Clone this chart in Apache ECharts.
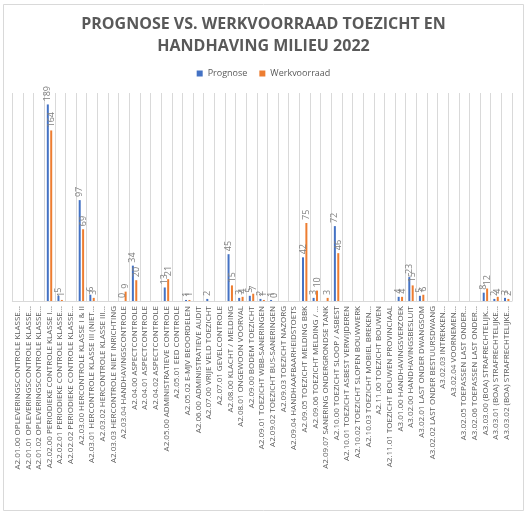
<!DOCTYPE html>
<html>
<head>
<meta charset="utf-8">
<script src="https://cdn.jsdelivr.net/npm/echarts@6/dist/echarts.min.js"></script>
<style>
html,body{margin:0;padding:0;background:#fff;}
#c{width:527px;height:517px;}
</style>
</head>
<body>
<div id="c"></div>
<script>
var categories = [
  "A2.01.00 OPLEVERINGSCONTROLE KLASSE…",
  "A2.01.01 OPLEVERINGSCONTROLE KLASSE…",
  "A2.01.02 OPLEVERINGSCONTROLE KLASSE…",
  "A2.02.00 PERIODIEKE CONTROLE KLASSE I…",
  "A2.02.01 PERIODIEKE CONTROLE KLASSE…",
  "A2.02.02 PERIODIEKE CONTROLE KLASSE…",
  "A2.03.00 HERCONTROLE KLASSE I & II",
  "A2.03.01 HERCONTROLE KLASSE III (NIET…",
  "A2.03.02 HERCONTROLE KLASSE III…",
  "A2.03.03 HERCONTROLE NIET INRICHTING",
  "A2.03.04 HANDHAVINGSCONTROLE",
  "A2.04.00 ASPECTCONTROLE",
  "A2.04.01 ASPECTCONTROLE",
  "A2.04.02 ASPECTCONTROLE",
  "A2.05.00 ADMINISTRATIEVE CONTROLE",
  "A2.05.01 EED CONTROLE",
  "A2.05.02 E-MJV BEOORDELEN",
  "A2.06.00 ADMINISTRATIEVE AUDIT",
  "A2.07.00 VRIJE VELD TOEZICHT",
  "A2.07.01 GEVELCONTROLE",
  "A2.08.00 KLACHT / MELDING",
  "A2.08.01 ONGEWOON VOORVAL",
  "A2.09.00 BODEM TOEZICHT",
  "A2.09.01 TOEZICHT WBB-SANERINGEN",
  "A2.09.02 TOEZICHT BUS-SANERINGEN",
  "A2.09.03 TOEZICHT NAZORG",
  "A2.09.04 HANDHAAFBAARHEIDSTOETS",
  "A2.09.05 TOEZICHT MELDING BBK",
  "A2.09.06 TOEZICHT MELDING / …",
  "A2.09.07 SANERING ONDERGRONDSE TANK",
  "A2.10.00 TOEZICHT SLOOP / ASBEST",
  "A2.10.01 TOEZICHT ASBEST VERWIJDEREN",
  "A2.10.02 TOEZICHT SLOPEN BOUWWERK",
  "A2.10.03 TOEZICHT MOBIEL BREKEN…",
  "A2.11.00 TOEZICHT BOUWEN",
  "A2.11.01 TOEZICHT BOUWEN PROVINCIAAL",
  "A3.01.00 HANDHAVINGSVERZOEK",
  "A3.02.00 HANDHAVINGSBESLUIT",
  "A3.02.01 LAST ONDER DWANGSOM",
  "A3.02.02 LAST ONDER BESTUURSDWANG",
  "A3.02.03 INTREKKEN…",
  "A3.02.04 VOORNEMEN…",
  "A3.02.05 TOEPASSEN LAST ONDER…",
  "A3.02.06 TOEPASSEN LAST ONDER…",
  "A3.03.00 (BOA) STRAFRECHTELIJK…",
  "A3.03.01 (BOA) STRAFRECHTELIJKE…",
  "A3.03.02 (BOA) STRAFRECHTELIJKE…"
];

var prognose = [
  null, null, null, 189, 5, null, 97, 6, null, null,
  0, 34, null, null, 13, null, 1, null, 2, null,
  45, 3, 5, 2, 1, null, null, 42, 3, null,
  72, null, null, null, null, null, 4, 23, 5, null,
  null, null, null, null, 8, 2, 3
];

var werkvoorraad = [
  null, null, null, 164, 1, null, 69, 3, null, null,
  9, 20, null, null, 21, null, 1, null, null, null,
  15, 4, 7, 1, 0, null, null, 75, 10, 3,
  46, null, null, null, null, null, 4, 15, 6, null,
  null, null, null, null, 12, 4, 2
];

var titleText = "PROGNOSE VS. WERKVOORRAAD TOEZICHT EN\nHANDHAVING MILIEU 2022";
var seriesNames = ["Prognose", "Werkvoorraad"];

var chart = echarts.init(document.getElementById('c'));

var barLabel = {
  show: true,
  position: 'top',
  rotate: 90,
  align: 'left',
  verticalAlign: 'middle',
  distance: 3,
  fontSize: 9,
  color: '#7f7f7f',
  fontFamily: 'Open Sans'
};

chart.setOption({
  animation: false,
  backgroundColor: '#ffffff',
  graphic: [{
    type: 'rect',
    shape: {x: 3.5, y: 4.5, width: 520, height: 506},
    style: {fill: 'none', stroke: '#d9d9d9', lineWidth: 1},
    silent: true
  }],
  title: {
    text: titleText,
    left: 'center',
    top: 8,
    textStyle: {
      fontFamily: 'Open Sans',
      fontWeight: 'bold',
      fontSize: 16,
      lineHeight: 22,
      color: '#595959',
      align: 'center'
    }
  },
  legend: {
    data: seriesNames,
    top: 64,
    left: 'center',
    itemWidth: 6,
    itemHeight: 6,
    itemGap: 12,
    icon: 'rect',
    textStyle: {fontFamily: 'Open Sans', fontSize: 9, color: '#595959'}
  },
  grid: {left: 12.3, right: 15, top: 93, bottom: 216, containLabel: false},
  xAxis: {
    type: 'category',
    data: categories,
    axisLine: {lineStyle: {color: '#d9d9d9'}},
    axisTick: {show: false},
    splitLine: {show: true, interval: 0, lineStyle: {color: '#d9d9d9'}},
    axisLabel: {
      interval: 0,
      rotate: 90,
      margin: 5,
      fontSize: 8,
      color: '#595959',
      fontFamily: 'Open Sans'
    }
  },
  yAxis: {
    type: 'value',
    min: 0,
    max: 200,
    show: false,
    splitLine: {show: false}
  },
  series: [
    {
      name: seriesNames[0],
      type: 'bar',
      data: prognose,
      barWidth: 2,
      barGap: '70%',
      itemStyle: {color: '#4472C4'},
      label: barLabel
    },
    {
      name: seriesNames[1],
      type: 'bar',
      data: werkvoorraad,
      barWidth: 2,
      barGap: '70%',
      itemStyle: {color: '#ED7D31'},
      label: barLabel
    }
  ]
});
</script>
</body>
</html>
